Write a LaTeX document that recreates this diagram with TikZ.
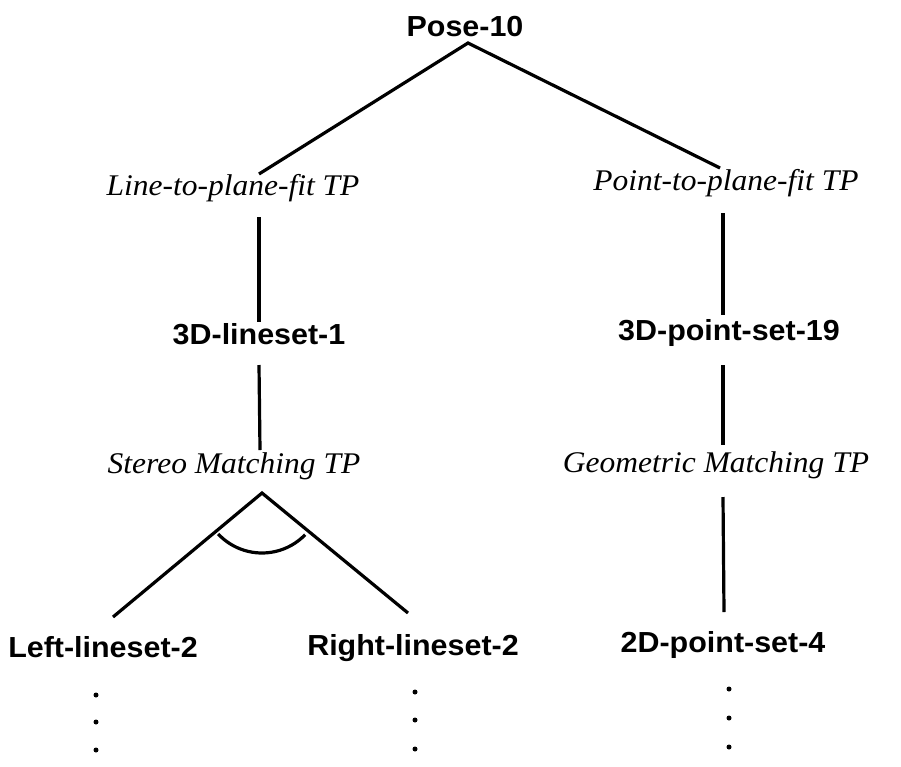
\documentclass[tikz,border=0pt]{standalone}
\usepackage{fontspec}
\usepackage{graphicx}
\setmainfont{Liberation Serif}
\newfontfamily\hvfont{Liberation Sans}

\tikzset{
  tree/.style={line width=3.2pt, black},
  objlabel/.style={inner sep=0pt, anchor=base, font=\hvfont\bfseries\fontsize{29}{34}\selectfont},
  tplabel/.style={inner sep=0pt, anchor=base, font=\itshape\fontsize{30}{35}\selectfont},
  ellip/.style={circle, fill=black, inner sep=0pt, minimum size=5pt}
}
\newcommand{\wide}[1]{\scalebox{1.05}[1]{#1}}

\begin{document}
\begin{tikzpicture}[x=1pt, y=-1pt]
  \useasboundingbox[fill=white] (0,0) rectangle (901,766);

  % labels
  \node[objlabel] (pose) at (465,36) {\wide{Pose-10}};
  \node[tplabel] (ltp) at (233,195) {\wide{Line-to-plane-fit TP}};
  \node[tplabel] (ptp) at (726,190) {\wide{Point-to-plane-fit TP}};
  \node[objlabel] (ls1) at (259,344) {\wide{3D-lineset-1}};
  \node[objlabel] (ps19) at (729,340) {\wide{3D-point-set-19}};
  \node[tplabel] (smtp) at (234,473) {\wide{Stereo Matching TP}};
  \node[tplabel] (gmtp) at (716,472) {\wide{Geometric Matching TP}};
  \node[objlabel] (lls) at (103,657) {\wide{Left-lineset-2}};
  \node[objlabel] (rls) at (413,655) {\wide{Right-lineset-2}};
  \node[objlabel] (ps4) at (723,652) {\wide{2D-point-set-4}};

  % connector end points
  \coordinate (pose-b) at (468,43);
  \coordinate (ltp-t) at (259,174);
  \coordinate (ptp-t) at (720,168);
  \coordinate (ltp-b) at (259,217);
  \coordinate (ls1-t) at (259,322);
  \coordinate (ls1-b) at (259,365);
  \coordinate (smtp-t) at (260,450);
  \coordinate (smtp-b) at (262,493);
  \coordinate (lls-t) at (113,617);
  \coordinate (rls-t) at (408,613);
  \coordinate (ptp-b) at (723,213);
  \coordinate (ps19-t) at (723,315);
  \coordinate (ps19-b) at (723,365);
  \coordinate (gmtp-t) at (723,445);
  \coordinate (gmtp-b) at (723,497);
  \coordinate (ps4-t) at (724,612);

  % tree edges
  \draw[tree] (ltp-t) -- (pose-b) -- (ptp-t);
  \draw[tree] (ltp-b) -- (ls1-t);
  \draw[tree] (ls1-b) -- (smtp-t);
  \draw[tree] (lls-t) -- (smtp-b) -- (rls-t);
  \draw[tree] (smtp-b) ++(137:60) arc[start angle=137, end angle=44, radius=60];
  \draw[tree] (ptp-b) -- (ps19-t);
  \draw[tree] (ps19-b) -- (gmtp-t);
  \draw[tree] (gmtp-b) -- (ps4-t);

  % continuation dots
  \foreach \y [count=\i] in {695,722,750} {
    \node[ellip] (ld\i) at (96,\y) {};
  }
  \foreach \y [count=\i] in {692,720,749} {
    \node[ellip] (md\i) at (415,\y) {};
  }
  \foreach \y [count=\i] in {689,718,747} {
    \node[ellip] (rd\i) at (729,\y) {};
  }
\end{tikzpicture}
\end{document}
